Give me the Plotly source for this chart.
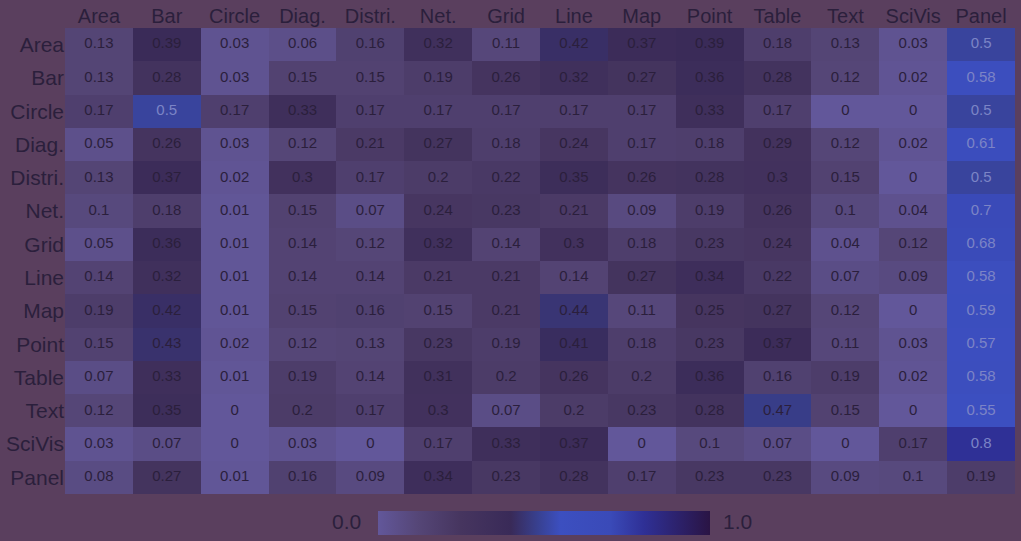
import plotly.graph_objects as go

labels = ["Area", "Bar", "Circle", "Diag.", "Distri.", "Net.", "Grid", "Line",
          "Map", "Point", "Table", "Text", "SciVis", "Panel"]

row_area = [0.13, 0.39, 0.03, 0.06, 0.16, 0.32, 0.11, 0.42, 0.37, 0.39, 0.18, 0.13, 0.03, 0.5]
row_bar = [0.13, 0.28, 0.03, 0.15, 0.15, 0.19, 0.26, 0.32, 0.27, 0.36, 0.28, 0.12, 0.02, 0.58]
row_circle = [0.17, 0.5, 0.17, 0.33, 0.17, 0.17, 0.17, 0.17, 0.17, 0.33, 0.17, 0, 0, 0.5]
row_diag = [0.05, 0.26, 0.03, 0.12, 0.21, 0.27, 0.18, 0.24, 0.17, 0.18, 0.29, 0.12, 0.02, 0.61]
row_distri = [0.13, 0.37, 0.02, 0.3, 0.17, 0.2, 0.22, 0.35, 0.26, 0.28, 0.3, 0.15, 0, 0.5]
row_net = [0.1, 0.18, 0.01, 0.15, 0.07, 0.24, 0.23, 0.21, 0.09, 0.19, 0.26, 0.1, 0.04, 0.7]
row_grid = [0.05, 0.36, 0.01, 0.14, 0.12, 0.32, 0.14, 0.3, 0.18, 0.23, 0.24, 0.04, 0.12, 0.68]
row_line = [0.14, 0.32, 0.01, 0.14, 0.14, 0.21, 0.21, 0.14, 0.27, 0.34, 0.22, 0.07, 0.09, 0.58]
row_map = [0.19, 0.42, 0.01, 0.15, 0.16, 0.15, 0.21, 0.44, 0.11, 0.25, 0.27, 0.12, 0, 0.59]
row_point = [0.15, 0.43, 0.02, 0.12, 0.13, 0.23, 0.19, 0.41, 0.18, 0.23, 0.37, 0.11, 0.03, 0.57]
row_table = [0.07, 0.33, 0.01, 0.19, 0.14, 0.31, 0.2, 0.26, 0.2, 0.36, 0.16, 0.19, 0.02, 0.58]
row_text = [0.12, 0.35, 0, 0.2, 0.17, 0.3, 0.07, 0.2, 0.23, 0.28, 0.47, 0.15, 0, 0.55]
row_scivis = [0.03, 0.07, 0, 0.03, 0, 0.17, 0.33, 0.37, 0, 0.1, 0.07, 0, 0.17, 0.8]
row_panel = [0.08, 0.27, 0.01, 0.16, 0.09, 0.34, 0.23, 0.28, 0.17, 0.23, 0.23, 0.09, 0.1, 0.19]

z = [row_area, row_bar, row_circle, row_diag, row_distri, row_net, row_grid,
     row_line, row_map, row_point, row_table, row_text, row_scivis, row_panel]

BG = "#5a3f5e"
DARK_TXT = "#2b1f3c"
LIGHT_TXT = "#7c84c6"
FONT = "Liberation Sans, Arial, sans-serif"

colorscale = [
    [0.0, "#62579a"],
    [0.12, "#554677"],
    [0.25, "#46355f"],
    [0.4, "#392a58"],
    [0.48, "#38408f"],
    [0.55, "#3c4fc0"],
    [0.7, "#3a4ab8"],
    [0.8, "#2f3096"],
    [1.0, "#2a1444"],
]

n = len(labels)

fig = go.Figure()
fig.add_trace(go.Heatmap(
    z=z, x=labels, y=labels, zmin=0, zmax=1,
    colorscale=colorscale, xgap=0, ygap=0,
    hoverinfo="skip",
    colorbar=dict(
        orientation="h", x=0.504, xanchor="center", y=-0.089, yanchor="bottom",
        len=352, lenmode="pixels", thickness=24, thicknessmode="pixels",
        ypad=0, outlinewidth=0, showticklabels=False, ticks="",
    ),
))

tx, ty, tt, tc = [], [], [], []
for r, row in zip(labels, z):
    for c, v in zip(labels, row):
        tx.append(c)
        ty.append(r)
        tt.append(f"{v:g}")
        tc.append(LIGHT_TXT if v >= 0.5 else DARK_TXT)

fig.add_trace(go.Scatter(
    x=tx, y=ty, text=tt, mode="text",
    textfont=dict(family=FONT, size=15, color=tc),
    hoverinfo="skip", showlegend=False,
))

fig.update_layout(
    width=1021, height=541,
    margin=dict(l=65, r=6, t=28, b=42),
    paper_bgcolor=BG, plot_bgcolor=BG,
    showlegend=False,
    xaxis=dict(side="top", showgrid=False, zeroline=False, ticks="",
               automargin=False, range=[-0.5, n - 0.5],
               categoryorder="array", categoryarray=labels,
               tickfont=dict(family=FONT, size=20, color=DARK_TXT)),
    yaxis=dict(showgrid=False, zeroline=False, ticks="",
               automargin=False, range=[n - 0.5, -0.5],
               categoryorder="array", categoryarray=labels,
               tickfont=dict(family=FONT, size=21, color=DARK_TXT)),
    annotations=[
        dict(text="0.0", x=0.2958, y=-0.0594, xref="paper", yref="paper",
             xanchor="center", yanchor="middle",
             showarrow=False, font=dict(family=FONT, size=21, color=DARK_TXT)),
        dict(text="1.0", x=0.7084, y=-0.0594, xref="paper", yref="paper",
             xanchor="center", yanchor="middle",
             showarrow=False, font=dict(family=FONT, size=21, color=DARK_TXT)),
    ],
)

fig.write_html("out.html")
